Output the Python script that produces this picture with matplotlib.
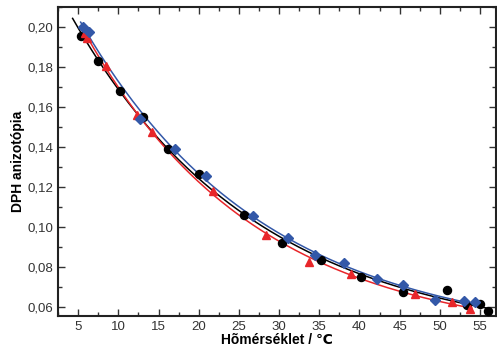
import numpy as np
import matplotlib
matplotlib.use('Agg')
import matplotlib.pyplot as plt
from matplotlib.ticker import MultipleLocator, FuncFormatter

plt.rcParams['font.family'] = ['Liberation Sans', 'DejaVu Sans']

# data
black_x = [5.4, 7.5, 10.2, 13.1, 16.2, 20.0, 25.6, 30.4, 35.2, 40.2, 45.4, 50.9, 53.4, 55.0, 56.0]
black_y = [0.1955, 0.183, 0.168, 0.155, 0.139, 0.1265, 0.106, 0.092, 0.0835, 0.075, 0.0675, 0.0685, 0.061, 0.0615, 0.058]

red_x = [5.8, 6.1, 8.5, 12.3, 14.2, 21.8, 28.4, 33.7, 39.0, 46.9, 51.5, 53.8]
red_y = [0.197, 0.1945, 0.1805, 0.156, 0.1475, 0.118, 0.096, 0.0825, 0.0765, 0.0665, 0.0625, 0.059]

blue_x = [5.6, 6.3, 12.7, 17.1, 20.9, 26.8, 31.1, 34.5, 38.1, 42.2, 45.4, 49.4, 53.0, 54.4]
blue_y = [0.200, 0.1975, 0.154, 0.139, 0.1255, 0.1055, 0.0945, 0.086, 0.082, 0.074, 0.071, 0.0635, 0.063, 0.0625]


def expdec_fit(x, y):
    # y = y0 + A*exp(-x/t), grid over t + linear least squares
    x = np.asarray(x)
    y = np.asarray(y)
    best = None
    for t in np.linspace(5, 200, 800):
        M = np.column_stack([np.ones_like(x), np.exp(-x / t)])
        coef, res, _, _ = np.linalg.lstsq(M, y, rcond=None)
        err = np.sum((M @ coef - y) ** 2)
        if best is None or err < best[0]:
            best = (err, coef, t)
    _, (y0, a), t = best
    return lambda xx: y0 + a * np.exp(-xx / t)


fig = plt.figure(figsize=(4.97, 3.52), dpi=100)
ax = fig.add_axes([0.117, 0.102, 0.881, 0.878])

series = [
    (black_x, black_y, 'black', 'o', (4.3, 56.0)),
    (red_x, red_y, '#e8262a', '^', (5.5, 54.0)),
    (blue_x, blue_y, '#3358a8', 'D', (5.3, 55.0)),
]
for xs, ys, col, mk, (x0, x1) in series:
    f = expdec_fit(xs, ys)
    xx = np.linspace(x0, x1, 200)
    ax.plot(xx, f(xx), color=col, lw=1.1, zorder=2)
    ax.plot(xs, ys, ls='none', marker=mk, color=col,
            markersize=5.8 if mk != 'D' else 5.0, zorder=3)

ax.set_xlim(2.5, 57.0)
ax.set_ylim(0.0555, 0.21)
ax.xaxis.set_major_locator(MultipleLocator(5))
ax.xaxis.set_minor_locator(MultipleLocator(2.5))
ax.yaxis.set_major_locator(MultipleLocator(0.02))
ax.yaxis.set_minor_locator(MultipleLocator(0.01))
ax.set_xticks(np.arange(5, 56, 5))
ax.yaxis.set_major_formatter(FuncFormatter(lambda v, p: f'{v:.2f}'.replace('.', ',')))

ax.tick_params(which='both', direction='in', top=True, right=True, width=1.0,
               labelsize=9.5, colors='#333333')
ax.tick_params(which='major', length=5)
ax.tick_params(which='minor', length=3)
for s in ax.spines.values():
    s.set_linewidth(1.5)
    s.set_color('#222222')

ax.set_xlabel('Hõmérséklet / ℃', fontsize=10, fontweight='bold', labelpad=0)
ax.set_ylabel('DPH anizotópia', fontsize=10, fontweight='bold', labelpad=2)

fig.savefig('out.png', dpi=100)
